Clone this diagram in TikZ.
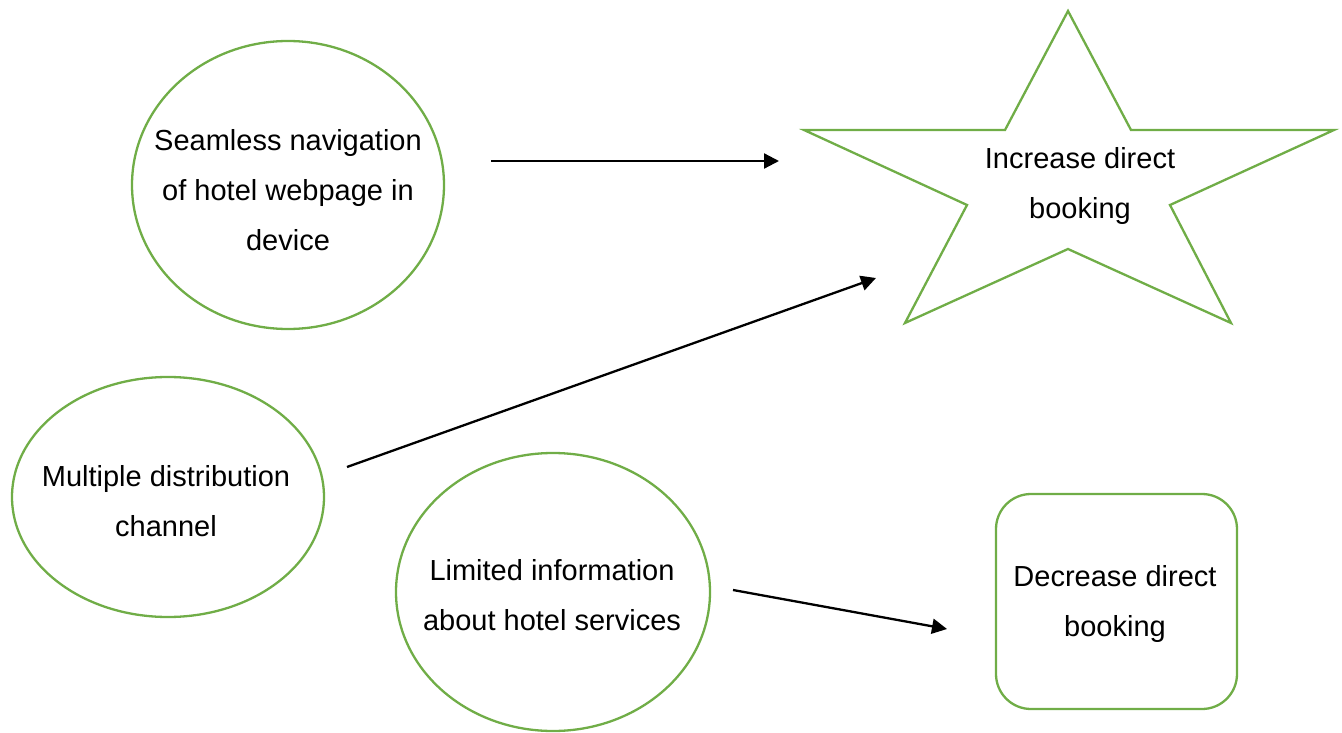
\documentclass[tikz,border=0pt]{standalone}
\usepackage{fontspec}
\setmainfont{Liberation Sans}
\usetikzlibrary{arrows.meta,shapes.geometric}
\definecolor{grn}{HTML}{70AD47}
\begin{document}
\begin{tikzpicture}[x=1pt,y=-1pt,
  shp/.style={draw=grn,line width=2.3pt},
  txt/.style={align=center,font=\fontsize{29}{50}\selectfont,inner sep=0pt},
  conn/.style={line width=2.3pt,-{Triangle[length=15pt,width=15pt]}}]
\useasboundingbox (0,0) rectangle (1342,733);
\node[shp,ellipse,minimum width=312pt,minimum height=288pt,inner sep=0pt] (e1) at (288,185) {};
\node[shp,ellipse,minimum width=312pt,minimum height=240pt,inner sep=0pt] (e2) at (168,497) {};
\node[shp,ellipse,minimum width=314pt,minimum height=278pt,inner sep=0pt] (e3) at (553,592) {};
\node[shp,rectangle,rounded corners=35pt,minimum width=241pt,minimum height=215pt] (dec) at (1116.5,601.5) {};
\draw[shp,line join=miter] (1068,11) -- (1131,130) -- (1334,130) -- (1170,205) -- (1231,323) -- (1068,249) -- (905,323) -- (967,205) -- (804,130) -- (1005,130) -- cycle;
\node[txt] (t1) at (288,190) {Seamless navigation\\of hotel webpage in\\device};
\node[txt] (t2) at (166,501) {Multiple distribution\\channel};
\node[txt] (t3) at (552,595) {Limited information\\about hotel services};
\node[txt] (inc) at (1080,186) {Increase direct\\booking};
\node[txt] (t5) at (1115,604) {Decrease direct\\booking};
\coordinate (a1s) at (491,161);
\coordinate (a1e) at (779,161);
\coordinate (a2s) at (347,467);
\coordinate (a2e) at (876,278);
\coordinate (a3s) at (733,590);
\coordinate (a3e) at (947,629);
\draw[conn] (a1s) -- (a1e);
\draw[conn] (a2s) -- (a2e);
\draw[conn] (a3s) -- (a3e);
\end{tikzpicture}
\end{document}
